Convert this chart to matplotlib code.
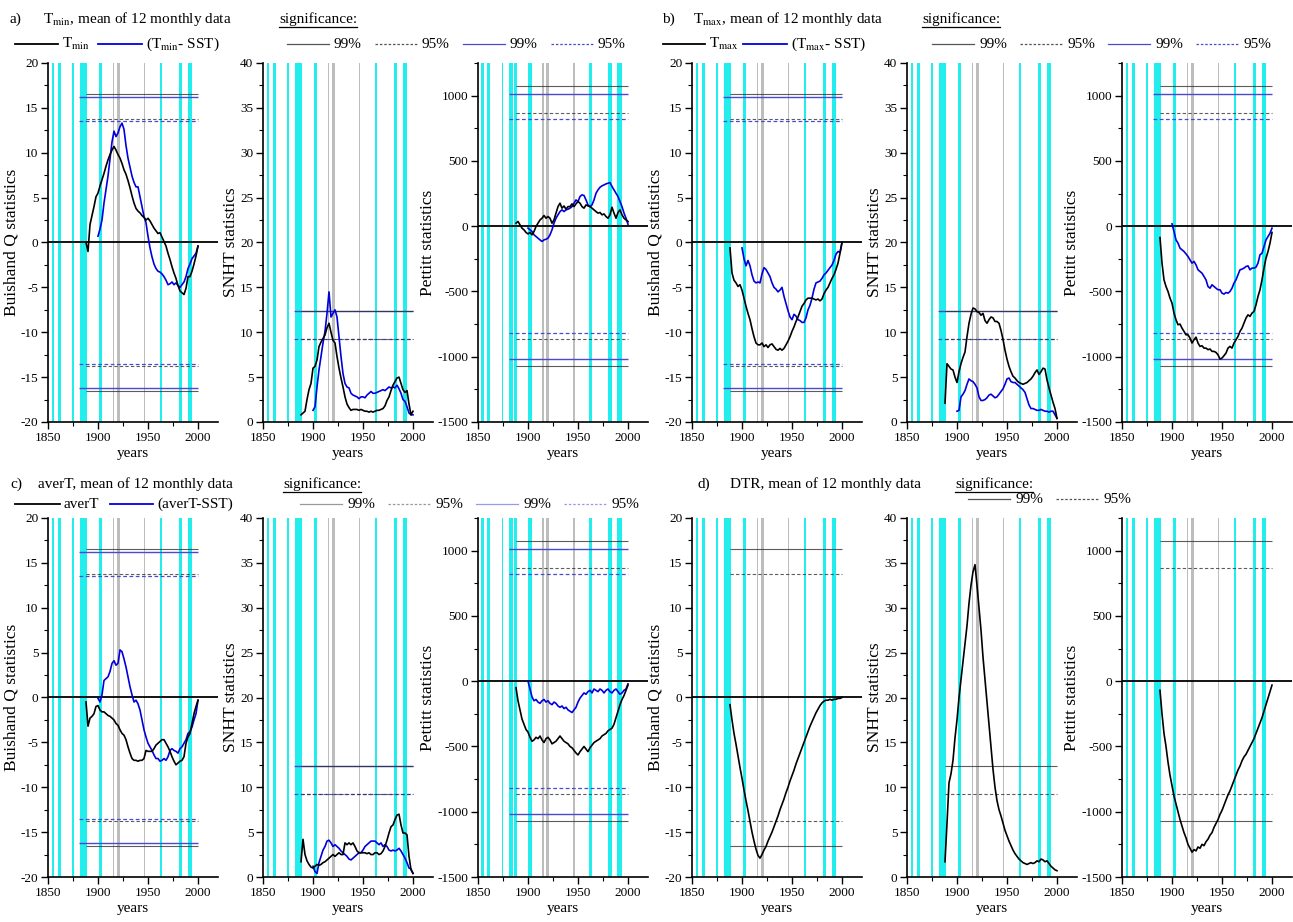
import numpy as np
import matplotlib
matplotlib.use("Agg")
import matplotlib.pyplot as plt
from matplotlib.lines import Line2D
from matplotlib.ticker import MultipleLocator

plt.rcParams['font.family'] = ['Liberation Serif', 'DejaVu Serif']
plt.rcParams['mathtext.fontset'] = 'stix'
plt.rcParams['axes.unicode_minus'] = False

W, H = 1293, 922

# ---- data (black series start 1888, blue series start 1900, 2-year steps) ----
start_black, start_blue, end_year = 1888, 1900, 2000

a_buis_k = [0.0, -1.0, 2.0, 3.0, 4.0, 5.1, 5.5, 6.3, 7.0, 7.7,
            8.5, 9.2, 9.8, 10.3, 10.7, 10.3, 9.8, 9.4, 8.8, 8.1,
            7.6, 6.9, 6.1, 5.2, 4.4, 3.8, 3.5, 3.3, 3.0, 2.8,
            2.5, 2.7, 2.4, 2.0, 1.6, 1.3, 1.0, 1.1, 0.6, 0.1,
            -0.4, -1.2, -1.9, -2.7, -3.4, -4.0, -4.8, -5.4, -5.6, -5.8,
            -5.1, -3.8, -3.8, -3.2, -2.4, -1.5, -0.4]
a_buis_b = [0.7, 1.5, 2.5, 4.4, 5.9, 7.4, 9.3, 11.2, 12.4, 11.8,
            12.2, 12.9, 13.3, 12.6, 10.8, 9.4, 8.4, 7.4, 6.7, 6.2,
            6.2, 5.1, 4.0, 2.9, 2.2, 0.7, -0.6, -1.6, -2.4, -2.9,
            -3.2, -3.3, -3.5, -3.8, -4.2, -4.7, -4.6, -4.4, -4.7, -4.5,
            -4.8, -5.0, -4.7, -4.4, -3.8, -2.9, -2.4, -1.8, -1.5, -1.2,
            -0.4]
a_snht_k = [0.8, 1.0, 1.2, 2.5, 3.6, 4.3, 6.0, 6.2, 6.9, 8.4,
            8.9, 9.3, 9.7, 10.5, 11.0, 10.0, 9.1, 8.8, 7.3, 6.0,
            4.9, 3.9, 2.8, 2.0, 1.6, 1.3, 1.4, 1.4, 1.4, 1.3,
            1.4, 1.3, 1.2, 1.2, 1.1, 1.2, 1.1, 1.2, 1.3, 1.3,
            1.4, 1.5, 1.8, 2.4, 2.8, 3.5, 4.1, 4.5, 4.9, 5.0,
            4.3, 3.6, 3.3, 3.5, 2.0, 0.8, 1.2]
a_snht_b = [1.3, 1.7, 3.9, 5.8, 7.3, 8.8, 10.1, 12.1, 14.5, 11.7,
            12.1, 12.5, 11.7, 9.5, 7.3, 5.4, 4.3, 3.9, 3.8, 3.2,
            3.0, 2.9, 2.8, 2.6, 2.8, 2.8, 2.7, 3.0, 3.2, 3.4,
            3.2, 3.2, 3.3, 3.4, 3.5, 3.6, 3.5, 3.7, 3.9, 3.8,
            3.9, 3.8, 4.1, 3.7, 3.2, 2.5, 2.3, 1.7, 1.0, 0.8,
            0.8]
a_pett_k = [23, 36, 10, -15, -28, -48, -59, -48, -66, -41,
            -3, 23, 48, 61, 82, 61, 74, 61, 23, 48,
            100, 150, 176, 138, 155, 130, 150, 150, 171, 150,
            171, 189, 176, 150, 138, 163, 155, 150, 138, 125,
            112, 100, 105, 87, 94, 74, 61, 87, 145, 100,
            61, 105, 125, 87, 61, 48, 36]
a_pett_b = [-15, -28, -41, -66, -79, -92, -105, -117, -105, -100,
            -92, -66, -28, 23, 61, 87, 112, 125, 112, 125,
            130, 138, 150, 176, 201, 189, 227, 240, 235, 201,
            163, 150, 163, 201, 252, 278, 298, 309, 316, 324,
            329, 334, 304, 278, 252, 227, 189, 150, 100, 61,
            15]

b_buis_k = [-0.6, -3.4, -4.2, -4.5, -4.9, -4.7, -5.3, -6.2, -7.1, -7.9,
            -8.6, -9.6, -10.5, -11.2, -11.4, -11.4, -11.2, -11.6, -11.4, -11.7,
            -11.4, -11.3, -11.6, -11.9, -12.0, -11.8, -12.0, -11.8, -11.4, -11.0,
            -10.5, -9.9, -9.4, -8.8, -8.3, -7.7, -7.1, -6.8, -6.4, -6.2,
            -6.2, -6.2, -6.3, -6.4, -6.3, -6.5, -6.3, -5.7, -5.3, -5.0,
            -4.5, -4.0, -3.6, -3.0, -2.3, -1.2, 0.0]
b_buis_b = [-0.6, -1.8, -2.6, -2.0, -2.6, -3.6, -4.3, -4.5, -4.4, -4.5,
            -3.5, -2.8, -3.0, -3.4, -3.8, -4.5, -5.0, -5.2, -5.5, -5.3,
            -5.0, -6.0, -6.8, -7.6, -8.3, -8.6, -8.0, -8.2, -8.6, -8.7,
            -8.9, -8.9, -8.4, -7.5, -7.0, -6.2, -5.2, -4.5, -4.4, -4.3,
            -4.0, -3.6, -3.4, -3.1, -2.8, -2.5, -2.0, -1.3, -1.0, -1.1,
            0.0]
b_snht_k = [2.1, 6.5, 6.2, 5.9, 5.8, 5.0, 4.4, 5.6, 6.5, 7.2,
            7.8, 9.5, 11.0, 12.0, 12.7, 12.6, 12.3, 12.2, 11.9, 12.1,
            11.3, 11.0, 11.4, 11.7, 11.6, 11.2, 11.2, 11.0, 10.2, 9.2,
            8.0, 7.0, 6.2, 5.6, 5.1, 4.9, 4.6, 4.4, 4.3, 4.2,
            4.3, 4.4, 4.6, 4.8, 5.1, 5.5, 5.8, 5.3, 5.6, 6.0,
            5.9, 4.7, 3.8, 3.0, 2.2, 1.5, 0.4]
b_snht_b = [1.2, 1.3, 2.8, 3.1, 3.5, 4.2, 4.8, 4.6, 4.5, 4.2,
            3.8, 2.8, 2.4, 2.4, 2.5, 2.7, 3.0, 3.1, 2.9, 2.7,
            2.8, 3.1, 3.4, 3.7, 4.2, 4.8, 4.9, 4.5, 4.4, 4.4,
            4.2, 4.0, 3.8, 3.6, 3.3, 2.6, 1.9, 1.5, 1.5, 1.4,
            1.3, 1.3, 1.4, 1.3, 1.2, 1.2, 1.1, 1.2, 1.2, 0.8,
            0.4]
b_pett_k = [-87, -283, -411, -462, -500, -551, -589, -666, -717, -755,
            -750, -781, -806, -832, -832, -857, -895, -870, -850, -895,
            -921, -916, -934, -934, -946, -941, -959, -959, -967, -985,
            -1018, -1010, -992, -972, -934, -921, -934, -895, -870, -844,
            -806, -781, -742, -704, -679, -691, -666, -653, -602, -538,
            -487, -411, -321, -245, -194, -130, -48]
b_pett_b = [18, -41, -105, -130, -168, -181, -194, -212, -232, -258,
            -283, -270, -296, -334, -347, -360, -385, -411, -462, -475,
            -449, -462, -475, -487, -487, -513, -520, -508, -513, -500,
            -475, -436, -411, -372, -334, -329, -321, -309, -304, -334,
            -321, -321, -314, -283, -219, -207, -156, -105, -79, -54,
            -15]

c_buis_k = [-0.5, -3.2, -2.3, -2.1, -1.8, -1.0, -0.9, -1.4, -1.6, -1.6,
            -1.8, -2.0, -2.1, -2.3, -2.5, -2.9, -3.1, -3.6, -4.0, -4.2,
            -4.7, -5.5, -6.2, -6.8, -7.0, -7.0, -7.1, -7.0, -7.0, -6.8,
            -5.9, -6.0, -6.0, -6.0, -5.7, -5.3, -5.1, -4.9, -4.7, -4.7,
            -5.1, -5.5, -6.0, -6.6, -7.1, -7.5, -7.3, -7.1, -7.0, -6.6,
            -5.1, -4.4, -4.0, -2.9, -1.8, -1.0, -0.3]
c_buis_b = [-0.1, -0.5, 0.3, 1.9, 2.1, 2.3, 2.9, 3.8, 4.1, 3.6,
            3.8, 5.3, 5.1, 4.3, 3.4, 2.3, 1.2, 0.3, -0.5, -0.3,
            -0.7, -1.4, -2.5, -3.6, -4.4, -5.1, -5.5, -5.9, -6.4, -6.8,
            -6.8, -7.1, -7.0, -6.8, -7.0, -6.6, -5.9, -5.7, -5.9, -6.0,
            -6.2, -5.7, -5.5, -5.1, -4.7, -4.0, -3.8, -3.3, -2.5, -1.8,
            -0.3]
c_snht_k = [1.7, 4.2, 2.5, 1.8, 1.4, 1.1, 1.0, 1.2, 1.4, 1.3,
            1.4, 1.6, 1.7, 1.9, 2.1, 2.3, 2.5, 2.3, 2.5, 2.7,
            2.5, 2.5, 3.8, 3.6, 3.8, 3.6, 3.8, 3.4, 2.9, 2.7,
            2.7, 2.7, 2.7, 2.6, 2.7, 2.5, 2.5, 2.7, 2.7, 2.5,
            2.6, 2.9, 3.4, 4.1, 4.9, 5.6, 5.8, 6.4, 6.9, 7.0,
            5.8, 4.9, 4.9, 4.7, 2.3, 0.8, 0.4]
c_snht_b = [1.2, 0.6, 0.4, 1.6, 2.3, 3.0, 3.4, 4.0, 4.1, 3.8,
            3.4, 3.6, 3.4, 3.2, 2.9, 2.7, 2.5, 2.3, 2.0, 1.9,
            2.1, 2.3, 2.5, 2.7, 2.7, 3.0, 3.4, 3.6, 3.8, 4.0,
            4.0, 4.0, 3.8, 3.6, 3.8, 3.4, 3.6, 3.4, 3.0, 2.9,
            3.0, 2.9, 3.0, 3.2, 2.9, 2.5, 2.1, 1.6, 1.0, 0.9,
            0.4]
c_pett_k = [-50, -150, -220, -290, -330, -370, -390, -430, -460, -450,
            -430, -440, -420, -450, -470, -440, -430, -450, -480, -470,
            -460, -440, -420, -440, -460, -470, -480, -500, -510, -530,
            -550, -565, -540, -520, -500, -520, -540, -510, -490, -470,
            -460, -450, -440, -420, -410, -400, -380, -370, -360, -330,
            -280, -230, -180, -140, -110, -70, -30]
c_pett_b = [0, -60, -120, -150, -140, -160, -170, -150, -140, -160,
            -150, -170, -180, -160, -170, -190, -200, -190, -210, -200,
            -220, -230, -240, -220, -200, -160, -130, -110, -90, -100,
            -80, -70, -90, -60, -70, -80, -60, -70, -90, -70,
            -60, -80, -90, -70, -60, -80, -100, -90, -70, -60,
            -20]

d_buis_k = [-0.8, -2.5, -4.0, -5.2, -6.5, -7.8, -9.0, -10.3, -11.5, -12.6,
            -13.8, -15.0, -16.0, -16.9, -17.6, -17.9, -17.5, -17.0, -16.6, -16.0,
            -15.5, -15.0, -14.4, -13.8, -13.2, -12.5, -11.9, -11.3, -10.6, -10.0,
            -9.3, -8.7, -8.1, -7.4, -6.8, -6.2, -5.6, -5.0, -4.4, -3.8,
            -3.2, -2.7, -2.2, -1.7, -1.3, -0.9, -0.6, -0.4, -0.3, -0.3,
            -0.2, -0.3, -0.2, -0.2, -0.1, -0.1, 0.0]
d_snht_k = [1.7, 6.0, 10.5, 11.5, 13.0, 15.5, 17.5, 20.0, 22.0, 24.0,
            26.0, 28.0, 30.5, 32.5, 34.0, 34.8, 32.5, 30.0, 27.5, 24.5,
            22.0, 19.5, 17.0, 14.5, 12.0, 10.0, 8.5, 7.5, 6.8, 6.0,
            5.2, 4.6, 4.0, 3.5, 3.0, 2.6, 2.3, 2.0, 1.8, 1.6,
            1.5, 1.4, 1.5, 1.6, 1.5, 1.6, 1.8, 1.7, 2.0, 1.9,
            1.7, 1.8, 1.5, 1.2, 1.0, 0.8, 0.7]
d_pett_k = [-70, -250, -400, -500, -620, -720, -800, -880, -940, -1000,
            -1060, -1110, -1160, -1200, -1250, -1280, -1310, -1290, -1300, -1270,
            -1280, -1250, -1260, -1230, -1210, -1180, -1160, -1120, -1090, -1060,
            -1020, -990, -950, -910, -870, -840, -800, -760, -720, -680,
            -650, -610, -580, -560, -530, -500, -470, -440, -400, -360,
            -320, -280, -230, -180, -130, -80, -30]

# break years highlighted in the background
cyan_bands = [(1853.5, 1856), (1859.5, 1862.5), (1874, 1875.5), (1881.5, 1885.5),
              (1886, 1889), (1900.5, 1904), (1961.5, 1964), (1980.5, 1984), (1989.5, 1994)]
gray_bands = [(1914.5, 1916), (1918.5, 1921.5), (1945.5, 1947)]

# critical values (99%, 95%) for black and blue series
buis_crit_k, buis_crit_b = (16.5, 13.8), (16.2, 13.5)
snht_crit_k, snht_crit_b = (12.4, 9.3), (12.4, 9.3)
pett_crit_k, pett_crit_b = (1070, 865), (1015, 820)

BLUE = '#0000dd'
DASH = (0, (3, 2))

fig = plt.figure(figsize=(W / 100, H / 100), dpi=100)

lefts = [48, 263, 478, 692, 907, 1122]
rows = [(63, 422), (518, 877)]


def make_ax(col, row):
    top, bot = rows[row]
    return fig.add_axes([lefts[col] / W, 1 - bot / H, 170 / W, (bot - top) / H])


def draw(ax, kind, k_vals, b_vals=None):
    for a, b in cyan_bands:
        ax.axvspan(a, b, color='#22eeee', lw=0, zorder=0)
    for a, b in gray_bands:
        ax.axvspan(a, b, color='#bdbdbd', lw=0, zorder=0)

    if kind == 'buis':
        ck, cb, sym = buis_crit_k, buis_crit_b, True
    elif kind == 'snht':
        ck, cb, sym = snht_crit_k, snht_crit_b, False
    else:
        ck, cb, sym = pett_crit_k, pett_crit_b, True
    signs = (1, -1) if sym else (1,)
    for s in signs:
        if b_vals is not None:
            ax.hlines(s * cb[0], 1881, end_year, color='#4a4ad0', lw=1.0, zorder=2)
            ax.hlines(s * cb[1], 1881, end_year, color='#4a4ad0', lw=0.9, linestyles=[DASH], zorder=2)
        ax.hlines(s * ck[0], start_black, end_year, color='#333333', lw=0.8, alpha=0.8, zorder=2)
        ax.hlines(s * ck[1], start_black, end_year, color='#333333', lw=0.8, alpha=0.8,
                  linestyles=[DASH], zorder=2)

    if kind != 'snht':
        ax.axhline(0, color='k', lw=1.3, zorder=2)

    xk = np.linspace(start_black, end_year, len(k_vals))
    ax.plot(xk, k_vals, color='k', lw=1.2, zorder=4)
    if b_vals is not None:
        xb = np.linspace(start_blue, end_year, len(b_vals))
        ax.plot(xb, b_vals, color=BLUE, lw=1.2, zorder=3)

    ax.set_xlim(1850, 2020)
    ax.xaxis.set_major_locator(MultipleLocator(50))
    ax.xaxis.set_minor_locator(MultipleLocator(25))
    if kind == 'buis':
        ax.set_ylim(-20, 20)
        ax.yaxis.set_major_locator(MultipleLocator(5))
        ax.yaxis.set_minor_locator(MultipleLocator(2.5))
        ax.set_ylabel('Buishand Q statistics', fontsize=12.5, labelpad=1)
    elif kind == 'snht':
        ax.set_ylim(0, 40)
        ax.yaxis.set_major_locator(MultipleLocator(5))
        ax.yaxis.set_minor_locator(MultipleLocator(2.5))
        ax.set_ylabel('SNHT statistics', fontsize=12.5, labelpad=1)
    else:
        ax.set_ylim(-1500, 1250)
        ax.yaxis.set_major_locator(MultipleLocator(500))
        ax.yaxis.set_minor_locator(MultipleLocator(250))
        ax.set_ylabel('Pettitt statistics', fontsize=12.5, labelpad=1)
    ax.set_xlabel('years', fontsize=11, labelpad=2)
    for sp in ('top', 'right'):
        ax.spines[sp].set_visible(False)
    for sp in ('left', 'bottom'):
        ax.spines[sp].set_linewidth(1.2)
    ax.tick_params(which='major', direction='out', length=5, width=1, labelsize=9.5, pad=2)
    ax.tick_params(which='minor', direction='out', length=3, width=0.8)
    ax.patch.set_alpha(0)


panels = [
    (0, 0, 'buis', a_buis_k, a_buis_b), (1, 0, 'snht', a_snht_k, a_snht_b), (2, 0, 'pett', a_pett_k, a_pett_b),
    (3, 0, 'buis', b_buis_k, b_buis_b), (4, 0, 'snht', b_snht_k, b_snht_b), (5, 0, 'pett', b_pett_k, b_pett_b),
    (0, 1, 'buis', c_buis_k, c_buis_b), (1, 1, 'snht', c_snht_k, c_snht_b), (2, 1, 'pett', c_pett_k, c_pett_b),
    (3, 1, 'buis', d_buis_k, None), (4, 1, 'snht', d_snht_k, None), (5, 1, 'pett', d_pett_k, None),
]
for col, row, kind, kv, bv in panels:
    draw(make_ax(col, row), kind, kv, bv)


# ---- headers and legends ----
def label(x, y, s, size=11):
    return fig.text(x / W, 1 - y / H, s, fontsize=size, va='center', ha='left')


def leg_line(x0, x1, y, **kw):
    fig.add_artist(Line2D([x0 / W, x1 / W], [1 - y / H] * 2, transform=fig.transFigure, **kw))


sig_texts = []
# a)
label(10, 19, 'a)')
label(43, 19, r'T$_{\rm min}$, mean of 12 monthly data')
sig_texts.append(label(279, 19, 'significance:'))
leg_line(15, 58, 44, color='k', lw=1.3)
label(62, 44, r'T$_{\rm min}$')
leg_line(98, 142, 44, color=BLUE, lw=1.3)
label(146, 44, r'(T$_{\rm min}$- SST)')
# b)
label(662, 19, 'b)')
label(693, 19, r'T$_{\rm max}$, mean of 12 monthly data')
sig_texts.append(label(922, 19, 'significance:'))
leg_line(663, 705, 44, color='k', lw=1.3)
label(709, 44, r'T$_{\rm max}$')
leg_line(743, 787, 44, color=BLUE, lw=1.3)
label(791, 44, r'(T$_{\rm max}$- SST)')
# c)
label(10, 484, 'c)')
label(38, 484, 'averT, mean of 12 monthly data')
sig_texts.append(label(283, 484, 'significance:'))
leg_line(15, 60, 504, color='k', lw=1.3)
label(64, 504, 'averT')
leg_line(110, 153, 504, color=BLUE, lw=1.3)
label(157, 504, '(averT-SST)')
# d)
label(697, 484, 'd)')
label(730, 484, 'DTR, mean of 12 monthly data')
sig_texts.append(label(955, 484, 'significance:'))

# significance legends: (x start, y, colours)
sig_legends = [
    (287, 44, ['#555555', '#555555', '#4a4ad0', '#4a4ad0']),
    (932, 44, ['#555555', '#555555', '#4a4ad0', '#4a4ad0']),
    (300, 504, ['#999999', '#999999', '#9999ee', '#9999ee']),
    (968, 499, ['#555555', '#555555']),
]
for x0, y, cols in sig_legends:
    x = x0
    for i, c in enumerate(cols):
        ls = '-' if i % 2 == 0 else (0, (2, 1.5))
        leg_line(x, x + 42, y, color=c, lw=0.9, linestyle=ls)
        label(x + 47, y, '99%' if i % 2 == 0 else '95%')
        x += 88

# underline "significance:"
fig.canvas.draw()
rend = fig.canvas.get_renderer()
for t in sig_texts:
    bb = t.get_window_extent(rend)
    y = (bb.y0 - 1) / H
    fig.add_artist(Line2D([bb.x0 / W, bb.x1 / W], [y, y], transform=fig.transFigure, color='k', lw=0.9))

fig.savefig('out.png', dpi=100)
